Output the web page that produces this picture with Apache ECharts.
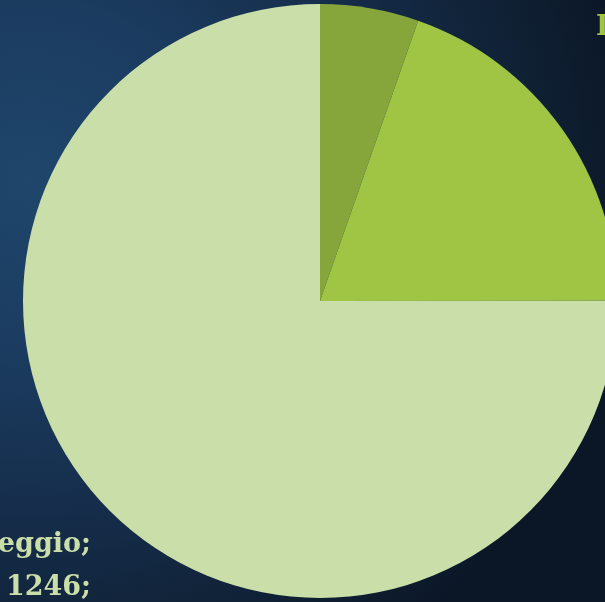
<!DOCTYPE html>
<html>
<head>
<meta charset="utf-8">
<script src="https://cdn.jsdelivr.net/npm/echarts@6/dist/echarts.min.js"></script>
<style>
  html, body { margin: 0; padding: 0; width: 605px; height: 602px; overflow: hidden; }
  body { background: radial-gradient(ellipse 100% 95% at 5% 30%, #1f466b 0%, #1b3c60 30%, #152c49 60%, #0f2033 85%, #0b1727 100%); }
  #chart { width: 605px; height: 602px; }
</style>
</head>
<body>
<div id="chart"></div>
<script>
// Data
const categories = ['Modena', 'Idro', 'Reggio'];
const values = [89, 326, 1246];
const sliceColors = ['#86a53a', '#a0c444', '#c9dea9'];
const showLabel = [false, true, true];

const labelFont = 'bold 27px "DejaVu Serif"';
function textWidth(s) {
  const c = document.createElement('canvas').getContext('2d');
  c.font = labelFont;
  return c.measureText(s).width;
}

const chart = echarts.init(document.getElementById('chart'), null, { renderer: 'canvas' });

// label anchors: top-right label starts at x=596, bottom-left label ends at x=91
const labelPlaces = [
  null,
  { x: 596 + textWidth(categories[1] + ';'), y: 6, align: 'right' },
  { x: 91, y: 523, align: 'right' }
];

const data = categories.map((name, i) => ({
  name: name,
  value: values[i],
  itemStyle: { color: sliceColors[i] },
  label: { show: showLabel[i], color: sliceColors[i], align: 'right' }
}));

chart.setOption({
  animation: false,
  backgroundColor: 'transparent',
  series: [{
    type: 'pie',
    center: [320, 301],
    radius: 297,
    startAngle: 90,
    clockwise: true,
    avoidLabelOverlap: false,
    data: data,
    label: {
      show: true,
      position: 'outside',
      formatter: function (p) {
        return p.name + ';\n' + p.value + ';\n' + Math.round(p.percent) + '%';
      },
      fontFamily: 'DejaVu Serif',
      fontWeight: 'bold',
      fontSize: 27,
      lineHeight: 43
    },
    labelLine: { show: false },
    labelLayout: function (params) {
      const p = labelPlaces[params.dataIndex];
      if (!p) return {};
      return { x: p.x, y: p.y, align: p.align, verticalAlign: 'top' };
    },
    emphasis: { disabled: true }
  }]
});
</script>
</body>
</html>
